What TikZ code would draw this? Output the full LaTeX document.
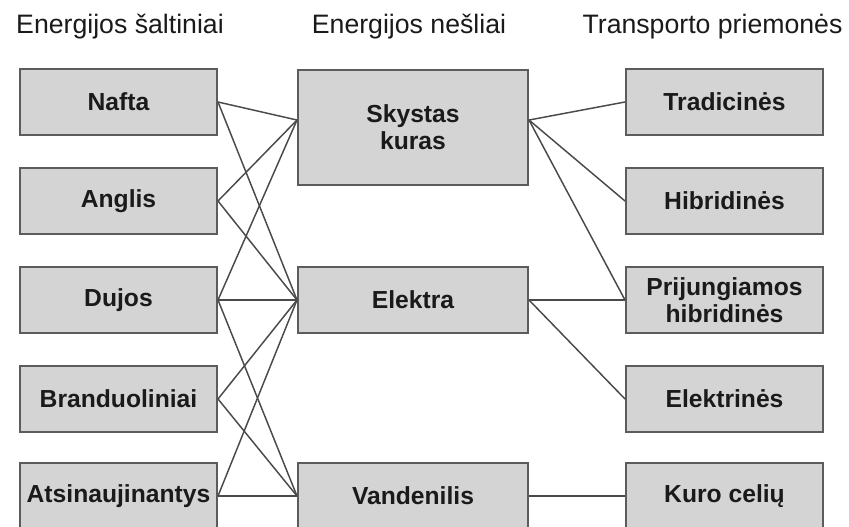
\documentclass[tikz,border=0pt]{standalone}
\usepackage{fontspec}
\setmainfont{Liberation Sans}
\definecolor{boxfill}{HTML}{D4D4D4}
\definecolor{boxborder}{HTML}{5C5C5C}
\definecolor{linkcol}{HTML}{4A4A4A}
\definecolor{txt}{HTML}{1A1A1A}
\begin{document}
\begin{tikzpicture}[x=0.75pt,y=-0.75pt,
  box/.style={draw=boxborder, fill=boxfill, line width=1.5pt, inner sep=0pt,
    minimum width=147.75pt, minimum height=49.5pt, align=center, text=txt,
    font=\fontsize{18.5}{20.5}\selectfont\bfseries},
  midbox/.style={box, minimum width=172.5pt},
  head/.style={anchor=base, text=txt, font=\fontsize{20}{24}\selectfont},
  link/.style={draw=linkcol, line width=1.1pt}]
\clip (0,0) rectangle (849,527);
\fill[white] (0,0) rectangle (849,527);
% headers
\node[head] (h1) at (120,34) {Energijos šaltiniai};
\node[head] (h2) at (409,34) {Energijos nešliai};
\node[head] (h3) at (712.5,34) {Transporto priemonės};
% left column
\node[box] (nafta) at (118.5,102) {Nafta};
\node[box] (anglis) at (118.5,201) {Anglis};
\node[box] (dujos) at (118.5,300) {Dujos};
\node[box] (brand) at (118.5,399) {Branduoliniai};
\node[box] (atsi) at (118.5,496) {Atsinaujinantys};
% middle column
\node[midbox, minimum height=86.25pt] (sky) at (413,127.5) {Skystas\\kuras};
\node[midbox] (elek) at (413,300) {Elektra};
\node[midbox] (vand) at (413,496) {Vandenilis};
% right column
\node[box] (trad) at (724.5,102) {Tradicinės};
\node[box] (hibr) at (724.5,201) {Hibridinės};
\node[box] (prij) at (724.5,300) {Prijungiamos\\hibridinės};
\node[box] (elkt) at (724.5,399) {Elektrinės};
\node[box] (kuro) at (724.5,496) {Kuro celių};
% connection points on the liquid-fuel box
\coordinate (skyW) at ([yshift=5.6pt]sky.west);
\coordinate (skyE) at ([yshift=5.6pt]sky.east);
% sources -> carriers
\path[link] (nafta.east) -- (skyW);
\path[link] (nafta.east) -- (elek.west);
\path[link] (anglis.east) -- (skyW);
\path[link] (anglis.east) -- (elek.west);
\path[link] (dujos.east) -- (skyW);
\path[link] (dujos.east) -- (elek.west);
\path[link] (dujos.east) -- (vand.west);
\path[link] (brand.east) -- (elek.west);
\path[link] (brand.east) -- (vand.west);
\path[link] (atsi.east) -- (elek.west);
\path[link] (atsi.east) -- (vand.west);
% carriers -> vehicles
\path[link] (skyE) -- (trad.west);
\path[link] (skyE) -- (hibr.west);
\path[link] (skyE) -- (prij.west);
\path[link] (elek.east) -- (prij.west);
\path[link] (elek.east) -- (elkt.west);
\path[link] (vand.east) -- (kuro.west);
\end{tikzpicture}
\end{document}
